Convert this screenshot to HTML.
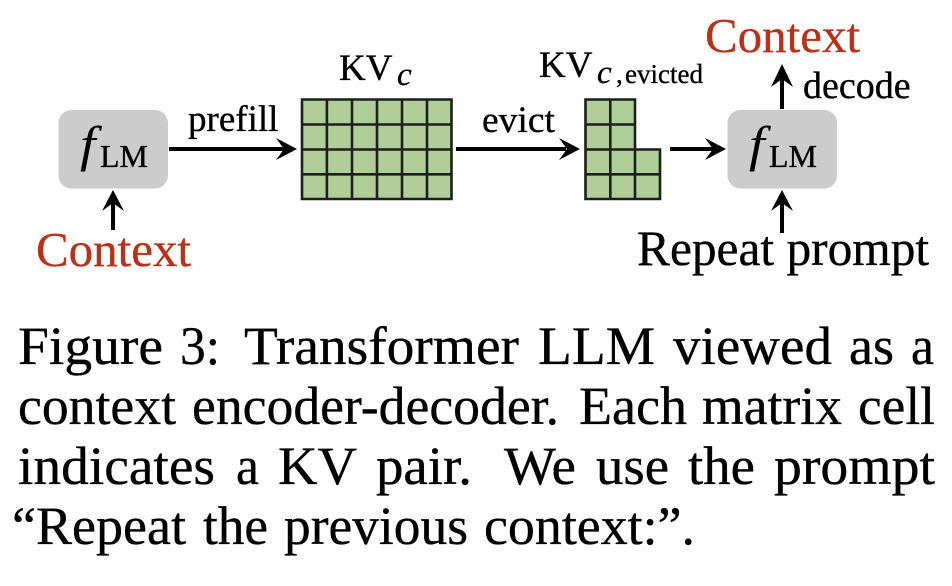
<!DOCTYPE html>
<html><head><meta charset="utf-8"><style>
html,body{margin:0;padding:0;background:#fff;width:952px;height:586px;overflow:hidden}
svg{display:block}
text{font-family:"Liberation Serif",serif;fill:#000;stroke:#000;stroke-width:.35px}
.c{font-size:54.5px}
.red{fill:#b8321a;stroke:#b8321a;font-size:49px}
</style></head><body>
<svg width="952" height="586" viewBox="0 0 952 586" xmlns="http://www.w3.org/2000/svg">
<rect width="952" height="586" fill="#fff"/>
<rect x="58.5" y="110" width="109.5" height="78.5" rx="13" fill="#cccccc"/>
<rect x="727.5" y="110" width="109.5" height="78.5" rx="13" fill="#cccccc"/>

<rect x="302" y="99.5" width="149.5" height="99.5" fill="#b0cf98"/>
<path d="M302 99.5H451.5V199H302ZM302 124.5H451.5M302 149.5H451.5M302 174.3H451.5M326.9 99.5V199M352 99.5V199M377 99.5V199M402 99.5V199M427 99.5V199" fill="none" stroke="#1c1f1a" stroke-width="2.6"/>

<path d="M585.5 99.5H635V149.5H660V199H585.5Z" fill="#b0cf98"/>
<path d="M585.5 99.5H635V149.5H660V199H585.5ZM585.5 124.5H635M585.5 149.5H635M585.5 174.3H660M610.3 99.5V199M635 149.5V199" fill="none" stroke="#1c1f1a" stroke-width="2.6"/>

<g fill="#000">
<rect x="169" y="147" width="115" height="4"/>
<path d="M297 149L276 138L284 149L276 160Z"/>
<rect x="456" y="147" width="110" height="4"/>
<path d="M580 149L559 138L567 149L559 160Z"/>
<rect x="670" y="147" width="43" height="4"/>
<path d="M726 149L705 138L713 149L705 160Z"/>
<rect x="111" y="203" width="4" height="27"/>
<path d="M113 190L102 211L113 203L124 211Z"/>
<rect x="780" y="203" width="4" height="30"/>
<path d="M782 190L771 211L782 203L793 211Z"/>
<rect x="780" y="79" width="4" height="30"/>
<path d="M782 64L771 87L782 79L793 87Z"/>
</g>

<text class="red" x="36" y="266">Context</text>
<text class="red" x="705" y="52">Context</text>
<text x="637" y="265" font-size="49.4">Repeat prompt</text>
<text x="188" y="131" font-size="37">prefill</text>
<text x="482" y="132" font-size="37.5">evict</text>
<text x="803" y="98" font-size="38">decode</text>
<text x="339" y="80" font-size="37">KV</text>
<text x="397" y="85" font-size="33" font-style="italic">c</text>
<text x="539" y="77" font-size="37">KV</text>
<text x="597" y="83" font-size="33" font-style="italic">c</text>
<text x="616" y="83" font-size="27">,</text>
<text x="625" y="83" font-size="27">evicted</text>

<text transform="translate(80 161) scale(1.12 1)" x="0" y="0" font-size="50" font-style="italic" style="stroke:none">f</text>
<text x="100" y="167" font-size="32">LM</text>
<text transform="translate(749 161) scale(1.12 1)" x="0" y="0" font-size="50" font-style="italic" style="stroke:none">f</text>
<text x="769" y="167" font-size="32">LM</text>

<g>
<text class="c" x="18" y="364" textLength="145" lengthAdjust="spacingAndGlyphs">Figure</text><text class="c" x="180" y="364" textLength="40" lengthAdjust="spacingAndGlyphs">3:</text><text class="c" x="244" y="364" textLength="275" lengthAdjust="spacingAndGlyphs">Transformer</text><text class="c" x="538" y="364" textLength="117" lengthAdjust="spacingAndGlyphs">LLM</text><text class="c" x="673" y="364" textLength="159" lengthAdjust="spacingAndGlyphs">viewed</text><text class="c" x="849" y="364" textLength="45" lengthAdjust="spacingAndGlyphs">as</text><text class="c" x="911" y="364" textLength="23" lengthAdjust="spacingAndGlyphs">a</text>
<text class="c" x="18" y="424" textLength="158" lengthAdjust="spacingAndGlyphs">context</text><text class="c" x="192" y="424" textLength="367" lengthAdjust="spacingAndGlyphs">encoder-decoder.</text><text class="c" x="579" y="424" textLength="108" lengthAdjust="spacingAndGlyphs">Each</text><text class="c" x="702" y="424" textLength="140" lengthAdjust="spacingAndGlyphs">matrix</text><text class="c" x="858" y="424" textLength="77" lengthAdjust="spacingAndGlyphs">cell</text>
<text class="c" x="18" y="484" textLength="197" lengthAdjust="spacingAndGlyphs">indicates</text><text class="c" x="236" y="484" textLength="23" lengthAdjust="spacingAndGlyphs">a</text><text class="c" x="278" y="484" textLength="79" lengthAdjust="spacingAndGlyphs">KV</text><text class="c" x="376" y="484" textLength="96" lengthAdjust="spacingAndGlyphs">pair.</text><text class="c" x="504" y="484" textLength="72" lengthAdjust="spacingAndGlyphs">We</text><text class="c" x="596" y="484" textLength="73" lengthAdjust="spacingAndGlyphs">use</text><text class="c" x="688" y="484" textLength="67" lengthAdjust="spacingAndGlyphs">the</text><text class="c" x="774" y="484" textLength="161" lengthAdjust="spacingAndGlyphs">prompt</text>
<text class="c" x="12" y="544" textLength="174" lengthAdjust="spacingAndGlyphs">“Repeat</text><text class="c" x="203" y="544" textLength="65" lengthAdjust="spacingAndGlyphs">the</text><text class="c" x="284" y="544" textLength="184" lengthAdjust="spacingAndGlyphs">previous</text><text class="c" x="484" y="544" textLength="211" lengthAdjust="spacingAndGlyphs">context:”.</text>
</g>
</svg>
</body></html>
